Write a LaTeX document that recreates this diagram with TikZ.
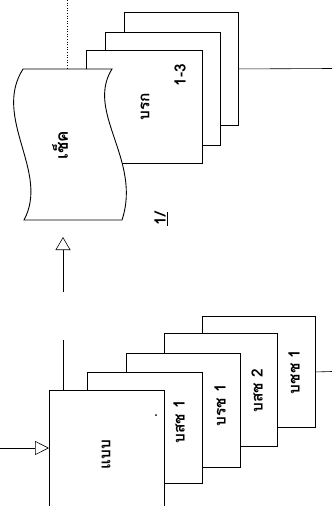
\documentclass[tikz,border=0pt]{standalone}
\usepackage{fontspec}
\newfontfamily\thaifont[Script=Thai]{Loma}
\usetikzlibrary{arrows.meta}
\begin{document}
\begin{tikzpicture}[x=1pt,y=-1pt,
  doc/.style={draw,fill=white,line width=0.9pt,anchor=north west,inner sep=0pt},
  lbl/.style={rotate=90,font=\thaifont\bfseries\fontsize{15.5}{18}\selectfont,inner sep=0pt},
  conn/.style={line width=0.6pt}]
\useasboundingbox (0,0) rectangle (332,506);
% right stack
\node[doc,minimum width=114pt,minimum height=113pt] (rb) at (124,12) {};
\node[doc,minimum width=115pt,minimum height=113pt] (rm) at (105,32) {};
\node[doc,minimum width=116pt,minimum height=113pt] (rf) at (86,50) {};
\coordinate (rout) at (332,68.5);
\draw[conn] (rb.east) -- (rout);
% cheque (wavy document)
\draw[fill=white,line width=0.9pt] (23,69) -- (112,69)
  .. controls (85,112) and (142,160) .. (122,220) -- (24,220)
  .. controls (50,172) and (-8,118) .. (23,69) -- cycle;
\coordinate (chtop) at (67,69);
\coordinate (ctop) at (67,0);
\draw[conn,dotted] (ctop) -- (chtop);
\node[lbl,font=\thaifont\bfseries\fontsize{17}{20}\selectfont] (ch) at (60,145) {เช็ค};
\node[lbl] (rlab) at (145,107) {บรก};
\node[lbl] (rnum) at (180,75) {1-3};
% note
\node[lbl] (note) at (161,219) {\underline{1/}};
% bottom stack
\node[doc,minimum width=113pt,minimum height=111pt] (b5) at (202,316) {};
\node[doc,minimum width=113pt,minimum height=113pt] (b4) at (164,333) {};
\node[doc,minimum width=114pt,minimum height=114pt] (b3) at (126,353) {};
\node[doc,minimum width=115pt,minimum height=111pt] (b2) at (87,372) {};
\node[doc,minimum width=115pt,minimum height=116pt] (b1) at (49,390) {};
\node[lbl] (l1) at (106,455) {แบบ};
\node[lbl] (l2) at (179,422) {บสช 1};
\node[lbl] (l3) at (220,405) {บรช 1};
\node[lbl] (l4) at (257,391) {บสช 2};
\node[lbl] (l5) at (294,372) {บชช 1};
\fill (156,415) circle (1pt);
\coordinate (bout) at (332,371.5);
\draw[conn] (b5.east) -- (bout);
\coordinate (bin) at (0,448);
\draw[conn,-{Triangle[open,length=14pt,width=14pt]}] (bin) -- (b1.west |- bin);
\coordinate (dbot) at (63,390);
\coordinate (dtop) at (63,237);
\draw[conn,dash pattern=on 50pt off 48pt,-{Triangle[open,length=13pt,width=15pt]}] (dbot) -- (dtop);
\end{tikzpicture}
\end{document}
